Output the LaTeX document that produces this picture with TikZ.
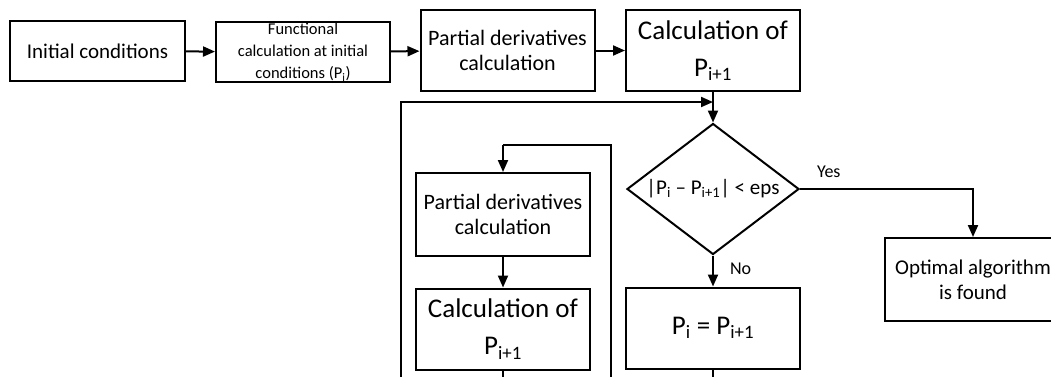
\documentclass[tikz,border=0pt]{standalone}
\usepackage{fontspec}
\setmainfont{Carlito}
\usepackage{tikz}
\usetikzlibrary{arrows.meta,shapes}

\begin{document}
\begin{tikzpicture}[x=1pt, y=-1pt, line width=2pt, >={Triangle[length=12pt,width=10pt]},
box node/.style={rectangle, draw, minimum width=174pt, minimum height=81pt, align=center, inner sep=1pt, font={\fontsize{22}{25}\selectfont}},
small node/.style={box node, minimum height=60pt, font={\fontsize{16.5}{22}\selectfont}},
big node/.style={box node, font={\fontsize{27}{37}\selectfont}},
cond node/.style={diamond, draw, aspect=1.31, minimum width=172pt, minimum height=131pt, inner sep=0pt, font={\fontsize{21}{24}\selectfont}},
label node/.style={font={\fontsize{18}{20}\selectfont}, inner sep=0pt}]
\useasboundingbox (0,0) rectangle (1051,376);
\clip (0,0) rectangle (1051,376);
\node[small node, minimum width=175pt, font={\fontsize{21}{25}\selectfont}] (1) at (97.5,51) {Initial conditions};
\node[small node] (2) at (303,52) {Functional\\calculation at initial\\conditions (P\textsubscript{i})};
\node[box node] (3) at (507.5,50.5) {Partial derivatives\\calculation};
\node[big node] (4) at (713,50.5) {Calculation of\\P\textsubscript{i+1}};
\node[cond node] (5) at (713,189) {|P\textsubscript{i} – P\textsubscript{i+1}| < eps};
\node[box node, minimum height=83pt] (6) at (503,214.5) {Partial derivatives\\calculation};
\node[big node] (7) at (503,329) {Calculation of\\P\textsubscript{i+1}};
\node[big node] (8) at (713,328) {P\textsubscript{i} = P\textsubscript{i+1}};
\node[box node, minimum width=176pt, minimum height=83pt, font={\fontsize{21}{25}\selectfont}] (9) at (973,279.5) {Optimal algorithm\\is found};
\coordinate (j) at (713,102);
\coordinate (o1) at (401,390);
\coordinate (o2) at (611,390);
\coordinate (t2) at (503,145);
\coordinate (b7) at (503,390);
\coordinate (b8) at (713,390);
\path[->]
(1) edge (2)
(2) edge (3)
(3) edge (4)
(j) edge (5)
(t2) edge (6)
(6) edge (7);
\draw (4) -- (j);
\draw[->] (o1) |- (j);
\draw (o2) |- (t2);
\draw[->] (5) -- node[label node, pos=0, anchor=north west, xshift=16pt, yshift=-6pt] {No} (8);
\draw[->] (5.east) -| node[label node, pos=0, anchor=south west, xshift=16pt, yshift=10pt] {Yes} (9);
\draw (7) -- (b7);
\draw (8) -- (b8);
\end{tikzpicture}
\end{document}
